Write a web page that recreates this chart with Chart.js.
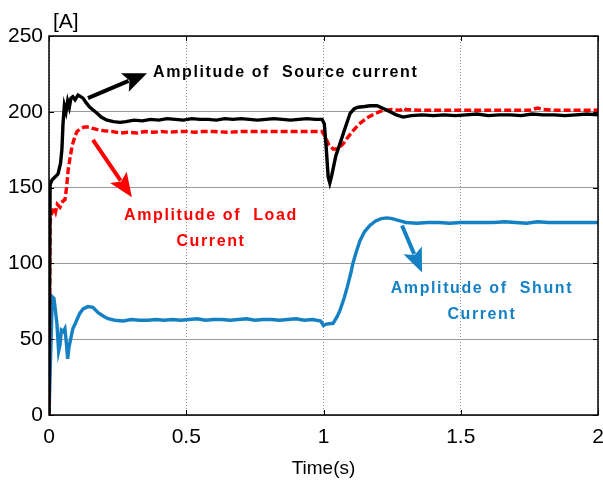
<!DOCTYPE html>
<html>
<head>
<meta charset="utf-8">
<script src="https://cdn.jsdelivr.net/npm/chart.js@4.4.0/dist/chart.umd.min.js"></script>
<style>
  html, body { margin: 0; padding: 0; background: #fff; }
  #wrap { width: 603px; height: 487px; }
</style>
</head>
<body>
<div id="wrap"><canvas id="currents"></canvas></div>
<script>
// simulation time (s) and current amplitudes (A)
const sourceT = [0, 0.004, 0.011, 0.022, 0.033, 0.042, 0.047, 0.051, 0.056, 0.062, 0.068, 0.074, 0.08, 0.087, 0.095, 0.106, 0.115, 0.124, 0.135, 0.149, 0.162, 0.175, 0.19, 0.211, 0.235, 0.259,
  0.28, 0.31, 0.34, 0.37, 0.40, 0.43, 0.46, 0.49, 0.52, 0.55, 0.58, 0.61, 0.64, 0.67, 0.70, 0.73, 0.76, 0.79, 0.82, 0.85, 0.88, 0.91, 0.94, 0.97, 0.995,
  1.003, 1.01, 1.017, 1.023, 1.03, 1.045, 1.06, 1.08, 1.097, 1.112, 1.126, 1.15, 1.17, 1.195, 1.22, 1.242, 1.265, 1.29, 1.32,
  1.36, 1.40, 1.44, 1.48, 1.52, 1.56, 1.60, 1.64, 1.68, 1.72, 1.76, 1.80, 1.84, 1.88, 1.92, 1.96, 2.0];
const sourceA = [0, 152, 155, 157, 159, 166, 175, 192, 204, 200, 207, 203, 209, 210, 208, 211, 210, 209, 206, 203, 201, 199, 196.5, 194.5, 193.5, 193,
  193.5, 194.5, 194, 195, 194.5, 195.5, 195, 194.5, 195.5, 195, 195, 194.5, 195.5, 195, 195.5, 195, 194.5, 195, 195.5, 195, 194.5, 195, 195.5, 195, 195,
  192, 176, 157, 153, 158, 171, 179, 190, 199, 202, 203, 203.5, 204, 204, 202, 200, 198, 196.5, 197.5,
  198, 197.5, 198, 197.5, 198, 198.5, 197.5, 198, 198, 197.5, 198.5, 198, 198, 197.5, 198, 198.5, 198];

const loadT = [0, 0.004, 0.01, 0.018, 0.024, 0.03, 0.04, 0.05, 0.058, 0.064, 0.07, 0.077, 0.085, 0.095, 0.102, 0.115, 0.13, 0.145, 0.16, 0.18, 0.2, 0.23,
  0.26, 0.29, 0.32, 0.35, 0.38, 0.41, 0.44, 0.47, 0.50, 0.53, 0.56, 0.60, 0.65, 0.70, 0.75, 0.80, 0.85, 0.90, 0.95, 0.995,
  1.005, 1.02, 1.035, 1.05, 1.07, 1.09, 1.11, 1.13, 1.158, 1.19, 1.217, 1.25, 1.28, 1.29, 1.30,
  1.35, 1.40, 1.45, 1.50, 1.55, 1.60, 1.65, 1.70, 1.75, 1.78, 1.80, 1.85, 1.90, 1.95, 2.0];
const loadA = [0, 128, 133, 137, 134, 139, 137, 141, 142, 150, 162, 170, 178, 184, 187, 189, 190, 190, 189, 188, 187.5, 187,
  186, 186.5, 186, 187, 186.5, 187, 186.5, 187, 187, 186.5, 187, 187, 186.5, 187, 187, 187, 187, 187, 187, 187,
  184, 178, 175.5, 175.5, 178.5, 183.5, 188, 192, 196, 199, 201, 201.5, 201, 202.5, 201.5,
  201, 201, 201, 201, 201, 201, 201, 201, 201, 202.5, 201.5, 201, 201, 201, 201];

const shuntT = [0, 0.012, 0.018, 0.024, 0.029, 0.035, 0.04, 0.045, 0.052, 0.058, 0.063, 0.068, 0.073, 0.08, 0.087, 0.095, 0.102, 0.112, 0.124, 0.142, 0.16, 0.179, 0.2, 0.215, 0.24,
  0.27, 0.30, 0.33, 0.36, 0.39, 0.42, 0.45, 0.48, 0.51, 0.54, 0.57, 0.60, 0.63, 0.66, 0.69, 0.72, 0.75, 0.78, 0.81, 0.84, 0.87, 0.90, 0.93, 0.96, 0.99,
  1.0, 1.01, 1.035, 1.05, 1.06, 1.075, 1.086, 1.1, 1.107, 1.12, 1.133, 1.15, 1.169, 1.19, 1.21, 1.231, 1.25, 1.279, 1.3, 1.34,
  1.38, 1.42, 1.46, 1.50, 1.54, 1.58, 1.62, 1.66, 1.70, 1.74, 1.78, 1.82, 1.86, 1.90, 1.94, 1.98, 2.0];
const shuntA = [0, 78, 77, 68, 60, 42, 46, 56, 55, 57, 48, 37, 45, 51, 57, 60, 63, 67, 70, 71.5, 71, 67.5, 65, 63.5, 62.5,
  62, 63, 62.5, 62.5, 63, 62.5, 63, 62.5, 63, 63.5, 62.5, 63, 63, 62.5, 63, 63.5, 62.5, 63, 63, 62.5, 63, 63.5, 62.5, 63, 62,
  59, 60, 60.5, 65, 69, 77, 84, 94, 100, 108, 115, 121, 125, 128, 129.5, 130, 129.5, 128, 127, 126.5,
  127, 127, 126.5, 127, 127, 127, 127, 127.5, 127, 126.5, 127.5, 127, 127, 127, 127, 127, 127];

const xTicks = [0, 0.5, 1, 1.5, 2];
const yTicks = [0, 50, 100, 150, 200, 250];

const FONT = "'Liberation Sans', Arial, sans-serif";
const BOLD = "bold 16px " + FONT;

// arrows and captions, placed in data units
const notes = [
  { color: '#000000', from: [0.142, 209], to: [0.357, 225.5], lines: ['Amplitude of  Source current'], at: [0.379, 226], align: 'left' },
  { color: '#ff0000', from: [0.160, 181.5], to: [0.302, 143.7], lines: ['Amplitude of  Load', 'Current'], at: [0.590, 131.8], align: 'center' },
  { color: '#1581c5', from: [1.286, 125], to: [1.359, 94], lines: ['Amplitude of  Shunt', 'Current'], at: [1.577, 83.5], align: 'center' }
];

function toPoints(ts, vs) {
  return ts.map((t, i) => ({ x: t, y: vs[i] }));
}

const framePlugin = {
  id: 'frame',
  afterDatasetsDraw(chart) {
    const { ctx, chartArea: a, scales } = chart;
    ctx.save();
    // inward tick marks on all four sides
    ctx.strokeStyle = '#000';
    ctx.lineWidth = 1;
    ctx.beginPath();
    xTicks.forEach(v => {
      const px = Math.round(scales.x.getPixelForValue(v)) + 0.5;
      ctx.moveTo(px, a.bottom); ctx.lineTo(px, a.bottom - 5);
      ctx.moveTo(px, a.top); ctx.lineTo(px, a.top + 5);
    });
    yTicks.forEach(v => {
      const py = Math.round(scales.y.getPixelForValue(v)) + 0.5;
      ctx.moveTo(a.left, py); ctx.lineTo(a.left + 5, py);
      ctx.moveTo(a.right, py); ctx.lineTo(a.right - 5, py);
    });
    ctx.stroke();
    // box
    ctx.lineWidth = 1.5;
    ctx.strokeRect(a.left, a.top, a.right - a.left, a.bottom - a.top);

    // unit label above the y axis
    ctx.fillStyle = '#000';
    ctx.font = '21px ' + FONT;
    ctx.textAlign = 'left';
    ctx.textBaseline = 'alphabetic';
    ctx.fillText('[A]', 53, 28);

    // arrows with captions
    notes.forEach(n => {
      const x0 = scales.x.getPixelForValue(n.from[0]);
      const y0 = scales.y.getPixelForValue(n.from[1]);
      const x1 = scales.x.getPixelForValue(n.to[0]);
      const y1 = scales.y.getPixelForValue(n.to[1]);
      const ang = Math.atan2(y1 - y0, x1 - x0);
      const head = 24, half = 10;
      const bx = x1 - head * Math.cos(ang), by = y1 - head * Math.sin(ang);
      ctx.strokeStyle = n.color;
      ctx.fillStyle = n.color;
      ctx.lineWidth = 4;
      ctx.beginPath();
      ctx.moveTo(x0, y0);
      ctx.lineTo(bx + 4 * Math.cos(ang), by + 4 * Math.sin(ang));
      ctx.stroke();
      ctx.beginPath();
      ctx.moveTo(x1, y1);
      ctx.lineTo(bx - half * Math.sin(ang), by + half * Math.cos(ang));
      ctx.lineTo(bx + 5 * Math.cos(ang), by + 5 * Math.sin(ang));
      ctx.lineTo(bx + half * Math.sin(ang), by - half * Math.cos(ang));
      ctx.closePath();
      ctx.fill();

      ctx.font = BOLD;
      ctx.letterSpacing = '1.6px';
      ctx.textAlign = n.align;
      ctx.textBaseline = 'middle';
      const tx = scales.x.getPixelForValue(n.at[0]);
      let ty = scales.y.getPixelForValue(n.at[1]);
      n.lines.forEach(line => {
        ctx.fillText(line, tx, ty);
        ty += 26;
      });
      ctx.letterSpacing = '0px';
    });
    ctx.restore();
  }
};

new Chart(document.getElementById('currents'), {
  type: 'line',
  data: {
    datasets: [
      {
        label: 'Source current',
        data: toPoints(sourceT, sourceA),
        borderColor: '#000000',
        borderWidth: 3.4,
      },
      {
        label: 'Load current',
        data: toPoints(loadT, loadA),
        borderColor: '#ff0000',
        borderWidth: 3.4,
        borderDash: [7, 3],
      },
      {
        label: 'Shunt current',
        data: toPoints(shuntT, shuntA),
        borderColor: '#1581c5',
        borderWidth: 3.4,
      },
    ],
  },
  options: {
    responsive: true,
    maintainAspectRatio: false,
    animation: false,
    events: [],
    elements: { point: { radius: 0 }, line: { tension: 0 } },
    layout: { padding: { top: 36, right: 5, left: 0, bottom: 0 } },
    plugins: { legend: { display: false }, tooltip: { enabled: false } },
    scales: {
      x: {
        type: 'linear',
        min: 0,
        max: 2,
        afterFit(scale) {
          scale.height = 72;
          scale.paddingLeft = 0;
          scale.paddingRight = 0;
        },
        afterBuildTicks(scale) { scale.ticks = xTicks.map(v => ({ value: v })); },
        ticks: {
          color: '#000',
          padding: 10,
          font: { family: FONT, size: 21 },
          callback: v => String(v),
        },
        grid: { color: '#8c8c8c', lineWidth: 1, drawTicks: false },
        border: { display: false, dash: [1, 2] },
        title: {
          display: true,
          text: 'Time(s)',
          color: '#000',
          font: { family: FONT, size: 19 },
          padding: { top: 0, bottom: 7 },
        },
      },
      y: {
        min: 0,
        max: 250,
        afterFit(scale) {
          scale.width = 49;
          scale.paddingTop = 0;
          scale.paddingBottom = 0;
        },
        afterBuildTicks(scale) { scale.ticks = yTicks.map(v => ({ value: v })); },
        ticks: {
          color: '#000',
          padding: 6,
          font: { family: FONT, size: 21 },
          callback: v => String(v),
        },
        grid: { color: '#9a9a9a', lineWidth: 1, drawTicks: false },
        border: { display: false },
      },
    },
  },
  plugins: [framePlugin],
});
</script>
</body>
</html>
